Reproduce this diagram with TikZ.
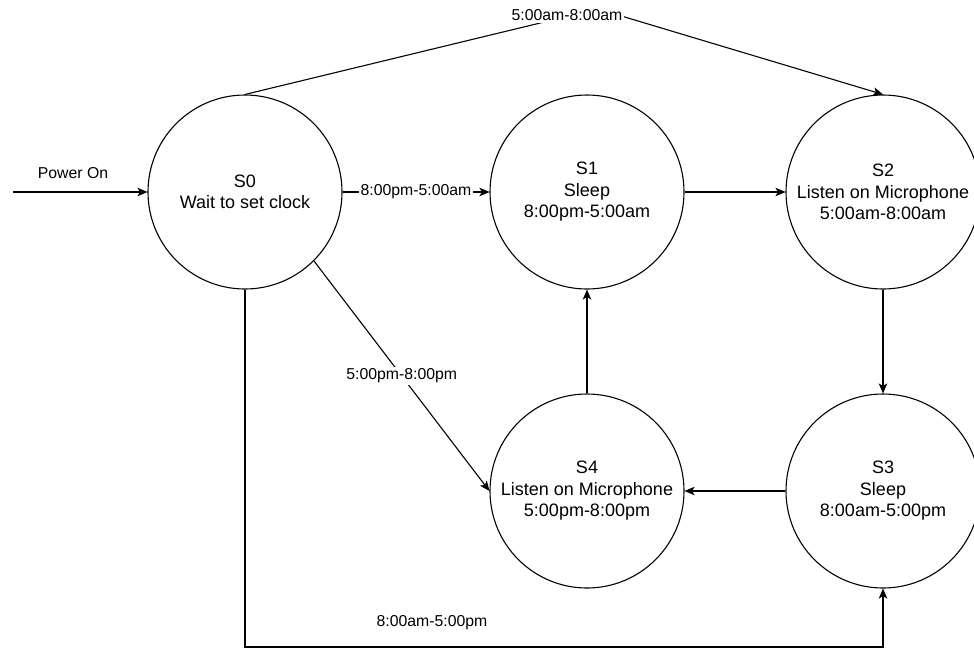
\documentclass[tikz,border=0pt]{standalone}
\usepackage{fontspec}
\setmainfont{Liberation Sans}
\usetikzlibrary{arrows.meta}
\tikzset{
  state/.style={draw, circle, line width=1.1pt, minimum size=194pt, inner sep=0pt,
    align=center, font=\fontsize{18}{21.5}\selectfont},
  arr/.style={line width=1.1pt, -{Stealth[length=10pt,width=8.5pt,inset=2.5pt]}},
  lbl/.style={fill=white, inner sep=2pt, font=\fontsize{15.8}{18}\selectfont},
  txt/.style={inner sep=0pt, font=\fontsize{15.8}{18}\selectfont}
}
\begin{document}
\begin{tikzpicture}[x=1pt, y=-1pt]
  \useasboundingbox (0,0) rectangle (974,649);
  \clip (0,0) rectangle (974,649);

  % states
  \node[state] (S0) at (245,192) {S0\\Wait to set clock};
  \node[state] (S1) at (587,192) {S1\\Sleep\\8:00pm-5:00am};
  \node[state] (S2) at (883,192) {S2\\Listen on Microphone\\5:00am-8:00am};
  \node[state] (S3) at (883,491) {S3\\Sleep\\8:00am-5:00pm};
  \node[state] (S4) at (587,491) {S4\\Listen on Microphone\\5:00pm-8:00pm};

  % helper points for bent connectors
  \coordinate (pwr) at (13,192);
  \coordinate (top) at (598,9);
  \coordinate (low) at (500,647);

  % initial transition
  \draw[arr] (pwr) -- (S0.west);
  \node[txt] (pwrlbl) at (73,173) {Power On};

  % transitions
  \draw[arr] (S0.east) -- node[lbl] (l01) {8:00pm-5:00am} (S1.west);
  \draw[arr] (S0.north) -- (top) -- (S2.north);
  \node[lbl] (l02) at (567,15) {5:00am-8:00am};
  \draw[arr] (S1.east) -- (S2.west);
  \draw[arr] (S2.south) -- (S3.north);
  \draw[arr] (S3.west) -- (S4.east);
  \draw[arr] (S4.north) -- (S1.south);
  \draw[arr] (S0.-45) -- node[lbl, pos=0.5] (l04) {5:00pm-8:00pm} (S4.west);
  \draw[arr] (S0.south) |- (low) -| (S3.south);
  \node[txt] (l03) at (432,623) {8:00am-5:00pm};
\end{tikzpicture}
\end{document}
